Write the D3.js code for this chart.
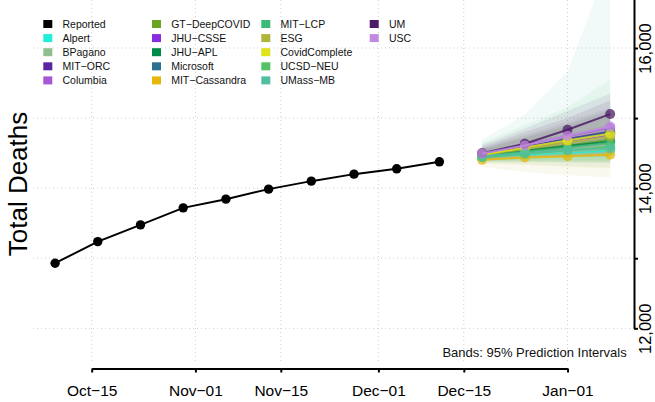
<!DOCTYPE html>
<html>
<head>
<meta charset="utf-8">
<script src="https://cdn.jsdelivr.net/npm/d3@7"></script>
<style>
  html, body { margin: 0; padding: 0; background: #fff; }
  svg { display: block; font-family: "Liberation Sans", Arial, Helvetica, sans-serif; }
</style>
</head>
<body>
<svg id="chart" width="655" height="402"></svg>
<script>
// ---------------- data ----------------
const reportedDates = ["2020-10-09","2020-10-16","2020-10-23","2020-10-30","2020-11-06","2020-11-13","2020-11-20","2020-11-27","2020-12-04","2020-12-11"];
const reportedValues = [12929, 13237, 13476, 13719, 13843, 13986, 14100, 14200, 14276, 14376];

const forecastDates = ["2020-12-18","2020-12-25","2021-01-01","2021-01-08"];

const modelNames = ["Alpert","BPagano","MIT−ORC","Columbia","GT−DeepCOVID","JHU−CSSE","JHU−APL","Microsoft","MIT−Cassandra","MIT−LCP","ESG","CovidComplete","UCSD−NEU","UMass−MB","UM","USC"];
const modelColors = ["#20eed8","#8fbf8f","#5a23a0","#a557d6","#6aa51f","#8b2be0","#008a4a","#2a7090","#e6b80c","#3dba78","#b0b43a","#dfe31a","#52c465","#52c0a0","#4c1c66","#c08ae0"];

const medianValues = [
  [14450, 14480, 14505, 14535],
  [14460, 14495, 14525, 14555],
  [14480, 14590, 14700, 14810],
  [14490, 14620, 14740, 14860],
  [14460, 14540, 14610, 14690],
  [14470, 14570, 14670, 14770],
  [14465, 14530, 14600, 14665],
  [14475, 14580, 14690, 14795],
  [14404, 14437, 14455, 14476],
  [14455, 14520, 14580, 14645],
  [14470, 14560, 14650, 14735],
  [14475, 14580, 14680, 14775],
  [14440, 14490, 14540, 14595],
  [14450, 14500, 14540, 14570],
  [14500, 14633, 14833, 15057],
  [14495, 14610, 14745, 14880]
];
const lowerValues = [
  [14400, 14400, 14400, 14400],
  [14380, 14380, 14370, 14360],
  [14400, 14430, 14450, 14460],
  [14420, 14460, 14500, 14520],
  [14380, 14380, 14380, 14380],
  [14400, 14420, 14440, 14450],
  [14400, 14420, 14440, 14450],
  [14400, 14430, 14460, 14480],
  [14350, 14330, 14300, 14280],
  [14380, 14380, 14370, 14360],
  [14300, 14230, 14185, 14151],
  [14400, 14420, 14440, 14460],
  [14380, 14380, 14380, 14380],
  [14360, 14340, 14320, 14300],
  [14420, 14480, 14560, 14640],
  [14400, 14450, 14500, 14540]
];
const upperValues = [
  [14500, 14560, 14620, 14680],
  [14540, 14620, 14700, 14780],
  [14580, 14760, 14950, 15150],
  [14580, 14800, 15000, 15250],
  [14560, 14720, 14880, 15050],
  [14550, 14720, 14900, 15100],
  [14530, 14650, 14780, 14900],
  [14560, 14740, 14920, 15120],
  [14460, 14540, 14620, 14700],
  [14650, 14900, 15150, 15550],
  [14600, 14800, 15000, 15250],
  [14560, 14740, 14920, 15100],
  [14500, 14600, 14700, 14820],
  [14690, 15046, 15661, 17260],
  [14620, 14850, 15100, 15350],
  [14600, 14800, 15000, 15250]
];

const xTickDates = ["2020-10-15","2020-11-01","2020-11-15","2020-12-01","2020-12-15","2021-01-01"];
const xTickLabels = ["Oct−15","Nov−01","Nov−15","Dec−01","Dec−15","Jan−01"];
const yTickValues = [12000, 13000, 14000, 15000, 16000, 17000];
const yTickLabels = ["12,000", "", "14,000", "", "16,000", ""];

// ---------------- layout ----------------
const parse = d3.utcParse("%Y-%m-%d");
const plot = { left: 33, right: 634, top: -40, bottom: 364 };

const x = d3.scaleUtc()
  .domain([parse(xTickDates[0]), parse(xTickDates[xTickDates.length - 1])])
  .range([91.7, 567.5]);
const y = d3.scaleLinear().domain([12000, 16000]).range([328.3, 48]);

const svg = d3.select("#chart");

svg.append("defs").append("clipPath").attr("id", "clip")
  .append("rect")
  .attr("x", plot.left).attr("y", plot.top)
  .attr("width", plot.right - plot.left).attr("height", plot.bottom - plot.top);

// grid
const grid = svg.append("g").attr("stroke", "#cfcfcf").attr("stroke-width", 1).attr("stroke-dasharray", "1,3");
grid.selectAll("line.v").data(xTickDates).join("line")
  .attr("x1", d => x(parse(d))).attr("x2", d => x(parse(d)))
  .attr("y1", plot.top).attr("y2", plot.bottom);
grid.selectAll("line.h").data(yTickValues).join("line")
  .attr("x1", plot.left).attr("x2", plot.right)
  .attr("y1", d => y(d)).attr("y2", d => y(d));

// legend
const legendItems = [{ name: "Reported", color: "#000000" }]
  .concat(modelNames.map((n, i) => ({ name: n, color: modelColors[i] })));
const colX = [43.3, 152, 261.3, 369.7];
const legend = svg.append("g");
legendItems.forEach((d, i) => {
  const c = Math.floor(i / 5), r = i % 5;
  const cy = 24 + r * 14.1;
  legend.append("rect")
    .attr("x", colX[c]).attr("y", cy - 4)
    .attr("width", 9).attr("height", 8)
    .attr("fill", d.color);
  legend.append("text")
    .attr("x", colX[c] + 19.2).attr("y", cy + 3.8)
    .attr("font-size", 10.5).attr("fill", "#111")
    .text(d.name);
});

// bands
const plotG = svg.append("g").attr("clip-path", "url(#clip)");
const fDates = forecastDates.map(parse);
const area = d3.area()
  .x((d, i) => x(fDates[i]))
  .y0(d => y(d[0]))
  .y1(d => y(d[1]));
modelNames.forEach((n, m) => {
  const pts = lowerValues[m].map((lo, i) => [lo, upperValues[m][i]]);
  plotG.append("path")
    .datum(pts)
    .attr("d", area)
    .attr("fill", modelColors[m])
    .attr("fill-opacity", 0.08);
});

// reported line
const rDates = reportedDates.map(parse);
const line = d3.line().x(d => x(d[0])).y(d => y(d[1]));
const rPts = rDates.map((d, i) => [d, reportedValues[i]]);
plotG.append("path").datum(rPts).attr("d", line)
  .attr("fill", "none").attr("stroke", "#000").attr("stroke-width", 2);
plotG.selectAll("circle.rep").data(rPts).join("circle")
  .attr("cx", d => x(d[0])).attr("cy", d => y(d[1])).attr("r", 4.7).attr("fill", "#000");

// forecast lines/points
modelNames.forEach((n, m) => {
  const pts = fDates.map((d, i) => [d, medianValues[m][i]]);
  plotG.append("path").datum(pts).attr("d", line)
    .attr("fill", "none").attr("stroke", modelColors[m])
    .attr("stroke-width", 2).attr("stroke-opacity", 0.85);
  plotG.append("g").selectAll("circle").data(pts).join("circle")
    .attr("cx", d => x(d[0])).attr("cy", d => y(d[1])).attr("r", 5)
    .attr("fill", modelColors[m]).attr("fill-opacity", 0.75);
});

// x axis
const xAxis = d3.axisBottom(x)
  .tickValues(xTickDates.map(parse))
  .tickFormat((d, i) => xTickLabels[i])
  .tickSize(4).tickSizeOuter(0).tickPadding(12);
const gx = svg.append("g").attr("transform", "translate(0,368.5)").call(xAxis);
gx.select(".domain").attr("stroke", "#000").attr("stroke-width", 2);
gx.selectAll(".tick line").attr("stroke", "#000").attr("stroke-width", 2);
gx.selectAll(".tick text").attr("font-size", 15.5).attr("fill", "#000")
  .attr("font-family", "Liberation Sans, Arial, sans-serif");

// y axis (right)
const yAxisScale = y.copy().domain([12000, 17000]).range([y(12000), y(17000)]);
const yAxis = d3.axisRight(yAxisScale)
  .tickValues(yTickValues)
  .tickFormat((d, i) => yTickLabels[i])
  .tickSize(4).tickSizeOuter(0);
const gy = svg.append("g").attr("transform", "translate(634,0)").call(yAxis);
gy.select(".domain").attr("stroke", "#000").attr("stroke-width", 2);
gy.selectAll(".tick line").attr("stroke", "#000").attr("stroke-width", 2);
gy.selectAll(".tick text")
  .attr("x", null).attr("dy", null)
  .attr("transform", "translate(17,0) rotate(-90)")
  .attr("text-anchor", "middle")
  .attr("font-size", 16.5).attr("fill", "#000")
  .attr("font-family", "Liberation Sans, Arial, sans-serif");

// y title
svg.append("text")
  .attr("transform", "translate(27,184) rotate(-90)")
  .attr("text-anchor", "middle")
  .attr("font-size", 26).attr("fill", "#000")
  .text("Total Deaths");

// bands note
svg.append("text")
  .attr("x", 626.7).attr("y", 357)
  .attr("text-anchor", "end")
  .attr("font-size", 13).attr("fill", "#111")
  .text("Bands: 95% Prediction Intervals");
</script>
</body>
</html>
